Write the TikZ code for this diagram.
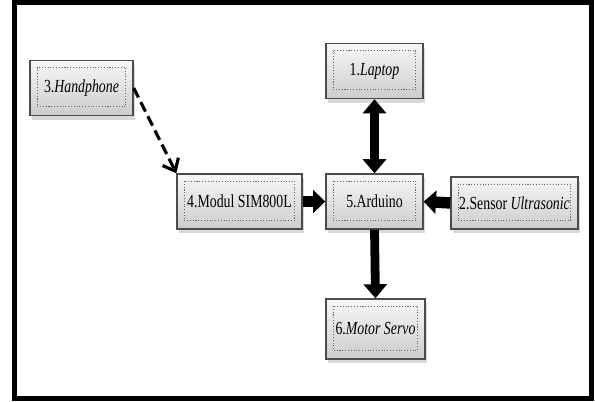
\documentclass[tikz,border=0pt]{standalone}
\usepackage{fontspec}
\setmainfont{Liberation Serif}
\newfontfamily\boxfont[FakeStretch=0.75]{Liberation Serif}
\usetikzlibrary{arrows.meta,shadows}

\begin{document}
\begin{tikzpicture}[x=0.02cm,y=-0.02cm,
    blok/.style={rectangle,draw=black!70,line width=0.8pt,
        top color=gray!6,bottom color=gray!40,
        drop shadow={opacity=0.3,shadow xshift=1pt,shadow yshift=-2.5pt},
        minimum height=1.1cm,inner sep=2pt,
        font=\boxfont\fontsize{10.5}{12}\selectfont,
        path picture={\draw[black!60,densely dotted,line width=0.6pt]
            ([shift={(4pt,-4pt)}]path picture bounding box.north west) rectangle
            ([shift={(-4pt,5pt)}]path picture bounding box.south east);}},
    panah/.style={line width=5pt,-{Triangle[width=13pt,length=8pt]}},
    panahlebar/.style={line width=6.5pt,-{Triangle[width=13pt,length=7pt]}}]
        \useasboundingbox (0,0) rectangle (595,402);

        % Outer frame
        \draw[line width=0.1cm] (14.5,3) rectangle (591,398.5);

        % Blocks
        \node[blok,minimum width=2.06cm] (hp) at (81.5,88) {3.\textit{Handphone}};
        \node[blok,minimum width=1.94cm] (laptop) at (374.5,71) {1.\textit{Laptop}};
        \node[blok,minimum width=2.5cm] (sim) at (239.5,201.5) {4.Modul SIM800L};
        \node[blok,minimum width=1.94cm] (arduino) at (374.5,201.5) {5.Arduino};
        \node[blok,minimum width=2.54cm,minimum height=1.04cm] (sensor) at (514.5,203) {2.Sensor \textit{Ultrasonic}};
        \node[blok,minimum width=1.98cm,minimum height=1.2cm] (servo) at (375.5,329) {6.\textit{Motor Servo}};

        % Connections
        \draw[panah,{Triangle[width=13pt,length=8pt]}-{Triangle[width=13pt,length=8pt]}] (laptop.south) -- (arduino.north);
        \draw[panahlebar] (sim.east) -- (arduino.west);
        \draw[panahlebar] (sensor.west) -- (arduino.east);
        \draw[panah] (arduino.south) -- (servo.north);
        \draw[line width=1.8pt,dash pattern=on 6pt off 3pt,-{Straight Barb[length=6pt,width=10pt]}] (hp.east) -- (sim.north west);

    \end{tikzpicture}
\end{document}
